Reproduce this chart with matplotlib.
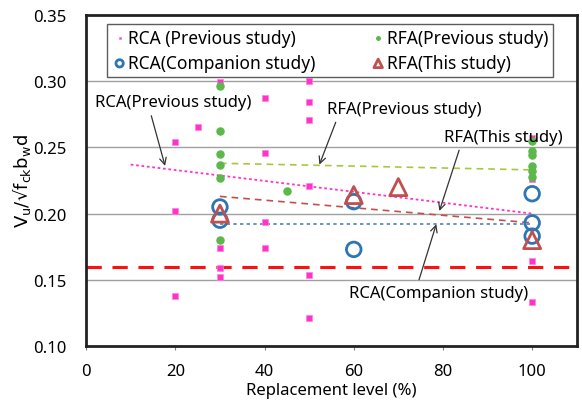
import matplotlib.pyplot as plt

plt.rcParams['font.family'] = ['Noto Sans', 'DejaVu Sans']

# RCA (previous study) - magenta squares
rca_prev_x = [20, 20, 20, 25, 30, 30, 30, 30, 40, 40, 40, 40,
              50, 50, 50, 50, 50, 50, 100, 100, 100, 100]
rca_prev_y = [0.254, 0.202, 0.138, 0.265, 0.299, 0.174, 0.159, 0.152,
              0.287, 0.246, 0.194, 0.174, 0.300, 0.284, 0.271, 0.221,
              0.154, 0.121, 0.257, 0.226, 0.164, 0.133]

# RFA (previous study) - green dots
rfa_prev_x = [30, 30, 30, 30, 30, 30, 45, 100, 100, 100, 100, 100, 100]
rfa_prev_y = [0.296, 0.262, 0.245, 0.237, 0.227, 0.180, 0.217,
              0.255, 0.247, 0.244, 0.236, 0.232, 0.228]

# RCA (companion study) - open circles
rca_comp_x = [30, 30, 60, 60, 100, 100, 100]
rca_comp_y = [0.205, 0.195, 0.209, 0.173, 0.215, 0.193, 0.183]

# RFA (this study) - open triangles
rfa_this_x = [30, 60, 70, 100]
rfa_this_y = [0.200, 0.214, 0.220, 0.180]

# trend lines (start, end)
rca_prev_fit = ([10, 100], [0.237, 0.200])
rfa_prev_fit = ([30, 100], [0.238, 0.233])
rfa_this_fit = ([30, 100], [0.213, 0.193])
rca_comp_fit = ([30, 100], [0.192, 0.192])
limit_y = 0.160

fig = plt.figure(figsize=(5.82, 4.06), dpi=100)
ax = fig.add_axes([0.148, 0.145, 0.843, 0.816])

for y in [0.15, 0.20, 0.25, 0.30]:
    ax.axhline(y, color='#a0a0a0', lw=1.0, zorder=0)

ax.axhline(limit_y, color='#ff1010', lw=2.2, ls=(0, (5, 3.5)), zorder=1)

ax.plot(*rca_prev_fit, color='#ff33cc', lw=1.3, ls=(0, (1.5, 1.5)), zorder=2)
ax.plot(*rfa_prev_fit, color='#a8c83c', lw=1.2, ls=(0, (4, 3)), zorder=2)
ax.plot(*rfa_this_fit, color='#c0504d', lw=1.2, ls=(0, (4, 3)), zorder=2)
ax.plot(*rca_comp_fit, color='#4f81bd', lw=1.2, ls=(0, (2, 2)), zorder=2)

h1 = ax.scatter(rca_prev_x, rca_prev_y, marker='s', s=14, color='#ff33cc',
                edgecolors='#ff80e0', linewidths=0.5, zorder=3)
h2 = ax.scatter(rfa_prev_x, rfa_prev_y, marker='o', s=26, color='#5cb84a', zorder=3)
h3 = ax.scatter(rca_comp_x, rca_comp_y, marker='o', s=110, facecolors='none',
                edgecolors='#2e75b6', linewidths=2.0, zorder=4)
h4 = ax.scatter(rfa_this_x, rfa_this_y, marker='^', s=150, facecolors='none',
                edgecolors='#c0504d', linewidths=2.0, zorder=5)

ax.set_xlim(0, 110)
ax.set_ylim(0.10, 0.35)
ax.set_xticks([0, 20, 40, 60, 80, 100])
ax.set_yticks([0.10, 0.15, 0.20, 0.25, 0.30, 0.35])
ax.set_yticklabels(['0.10', '0.15', '0.20', '0.25', '0.30', '0.35'])
ax.tick_params(axis='x', length=3, labelsize=12, pad=9, color='#808080')
ax.tick_params(axis='y', length=0, labelsize=12, pad=14)
for sp in ax.spines.values():
    sp.set_linewidth(2.0)
    sp.set_color('#222222')

ax.set_xlabel('Replacement level (%)', fontsize=12, labelpad=2)
ax.set_ylabel(r'V$_\mathregular{u}$/√f$_\mathregular{ck}$b$_\mathregular{w}$d',
              fontsize=13, labelpad=0, family='DejaVu Sans')

# row-wise order in the legend: matplotlib fills columns first
leg = ax.legend([h1, h3, h2, h4],
                ['RCA (Previous study)', 'RCA(Companion study)',
                 'RFA(Previous study)', 'RFA(This study)'],
                loc='upper center', bbox_to_anchor=(0.498, 0.973), ncol=2,
                borderaxespad=0,
                fontsize=12.5, frameon=True, fancybox=False, edgecolor='#333333',
                handletextpad=0.1, columnspacing=3.2, borderpad=0.3,
                labelspacing=0.4, markerscale=0.5, handlelength=0.8)
leg.get_frame().set_linewidth(1.0)

def arrow(rx, ry):
    return dict(arrowstyle='->', color='#333333', lw=0.9,
                relpos=(rx, ry), shrinkA=2, shrinkB=0)

ax.annotate('RCA(Previous study)', xy=(17.7, 0.236), xytext=(2, 0.284),
            fontsize=12, ha='left', va='center', arrowprops=arrow(0.35, 0))
ax.annotate('RFA(Previous study)', xy=(52.3, 0.237), xytext=(54, 0.279),
            fontsize=12, ha='left', va='center', arrowprops=arrow(0.07, 0))
ax.annotate('RFA(This study)', xy=(79.2, 0.202), xytext=(80.3, 0.258),
            fontsize=12, ha='left', va='center', arrowprops=arrow(0.14, 0))
ax.annotate('RCA(Companion study)', xy=(78.5, 0.192), xytext=(59, 0.140),
            fontsize=12, ha='left', va='center', arrowprops=arrow(0.38, 1))

fig.savefig('out.png', dpi=100)
